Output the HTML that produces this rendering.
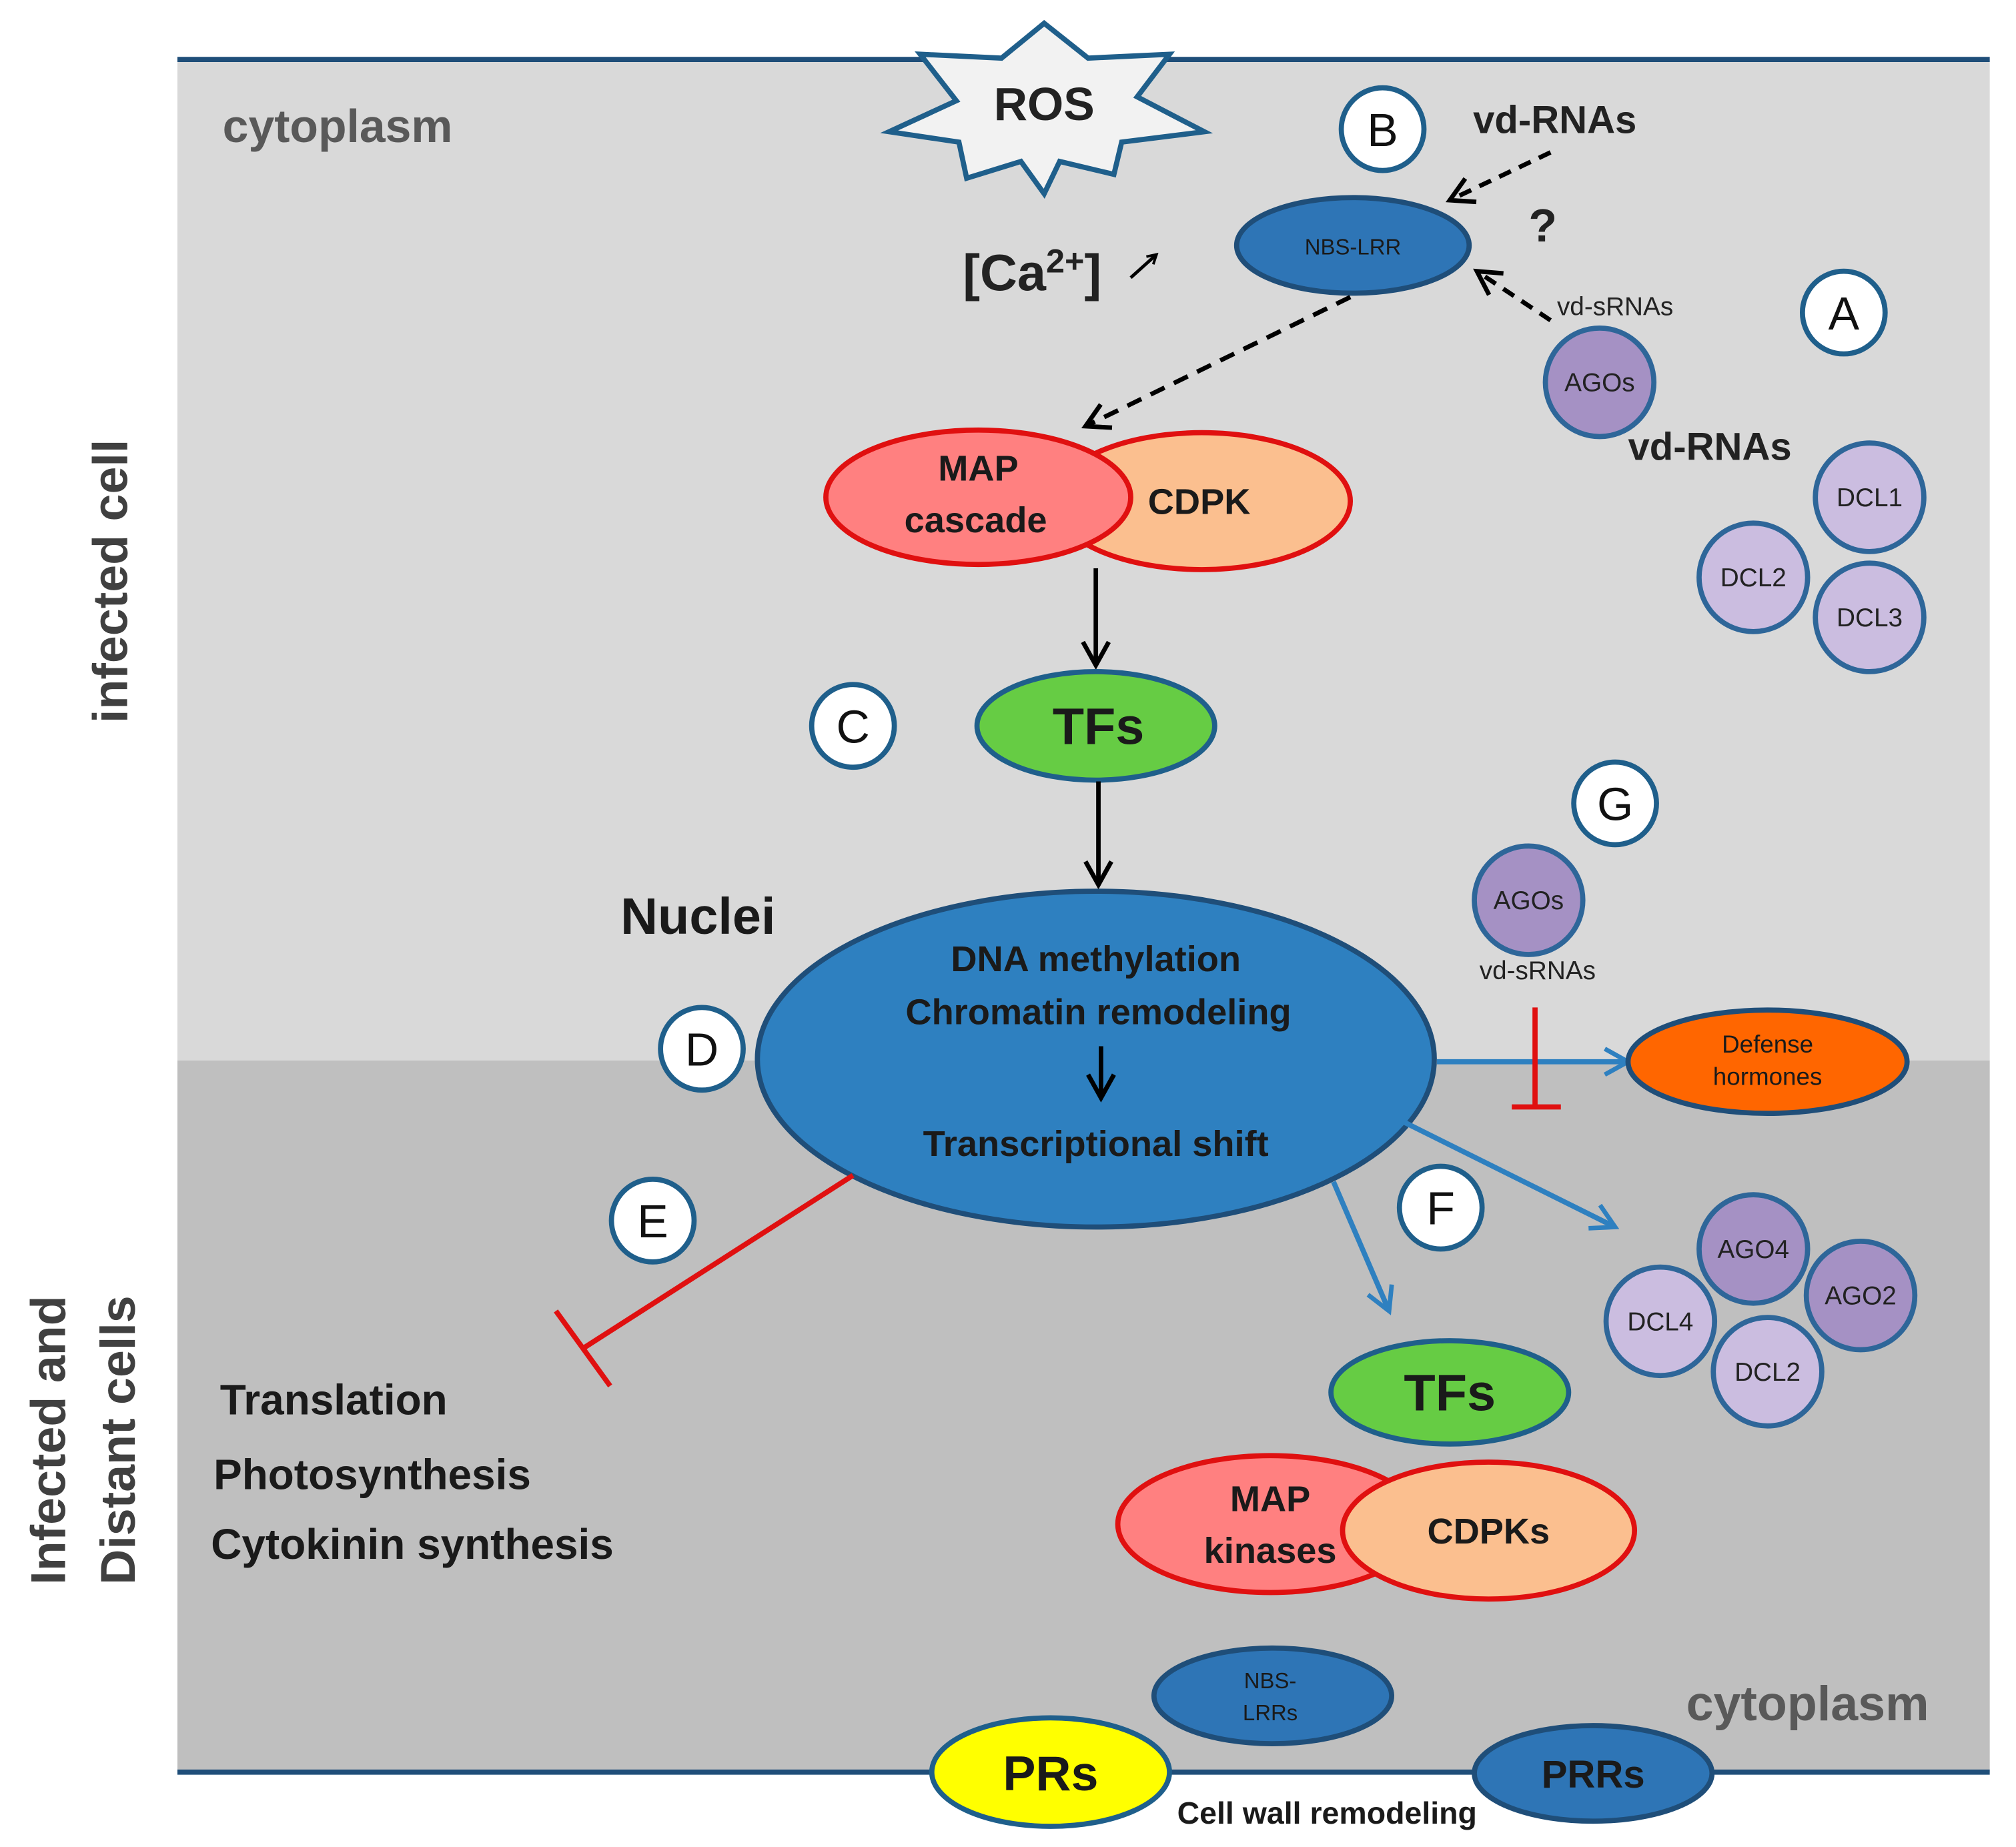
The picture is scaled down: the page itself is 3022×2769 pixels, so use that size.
<!DOCTYPE html>
<html><head><meta charset="utf-8"><style>
html,body{margin:0;padding:0;background:#fff;}
svg{display:block;}
text{font-family:"Liberation Sans",sans-serif;}
</style></head><body>
<svg width="3022" height="2769" viewBox="0 0 1560 1430" xmlns="http://www.w3.org/2000/svg">
<defs>
<marker id="ak" markerWidth="10" markerHeight="10" refX="8" refY="5" orient="auto" markerUnits="userSpaceOnUse" viewBox="0 0 10 10"><path d="M1,1 L8,5 L1,9" fill="none" stroke="#000" stroke-width="2"/></marker>
<marker id="akb" markerWidth="26" markerHeight="26" refX="22" refY="13" orient="auto" markerUnits="userSpaceOnUse" viewBox="0 0 26 26"><path d="M4,3 L22,13 L4,23" fill="none" stroke="#000" stroke-width="3.5"/></marker>
<marker id="ab" markerWidth="26" markerHeight="26" refX="22" refY="13" orient="auto" markerUnits="userSpaceOnUse" viewBox="0 0 26 26"><path d="M4,3 L22,13 L4,23" fill="none" stroke="#2e80c0" stroke-width="3.5"/></marker>
</defs>
<rect x="137" y="46" width="1403" height="775" fill="#d9d9d9"/>
<rect x="137" y="821" width="1403" height="551" fill="#bfbfbf"/>
<line x1="137" y1="46" x2="1540" y2="46" stroke="#1f4e79" stroke-width="4"/>
<line x1="137" y1="1372" x2="1540" y2="1372" stroke="#1f4e79" stroke-width="4"/>

<text x="172" y="110" font-size="36" font-weight="bold" fill="#595959">cytoplasm</text>
<text x="1305" y="1332" font-size="38" font-weight="bold" fill="#595959">cytoplasm</text>
<text transform="translate(98,450) rotate(-90)" text-anchor="middle" font-size="38" font-weight="bold" fill="#404040">infected cell</text>
<text transform="translate(50,1115) rotate(-90)" text-anchor="middle" font-size="38" font-weight="bold" fill="#404040">Infected and</text>
<text transform="translate(104,1115) rotate(-90)" text-anchor="middle" font-size="38" font-weight="bold" fill="#404040">Distant cells</text>

<!-- ROS star -->
<polygon points="808,18 842,45 905,42 880,75 932,102 868,110 862,135 820,125 808,150 790,125 748,138 742,110 688,102 740,78 712,42 775,45" fill="#f2f2f2" stroke="#1f5f8b" stroke-width="4"/>
<text x="808" y="93" text-anchor="middle" font-size="36" font-weight="bold" fill="#222">ROS</text>

<text x="745" y="225" font-size="40" font-weight="bold" fill="#222">[Ca<tspan font-size="26" dy="-14">2+</tspan><tspan dy="14">]</tspan></text>
<line x1="875" y1="215" x2="895" y2="197" stroke="#000" stroke-width="2.5" marker-end="url(#ak)"/>

<!-- circles letters -->
<g fill="#fff" stroke="#1f5f8b" stroke-width="4">
<circle cx="1070" cy="100" r="32"/><circle cx="1427" cy="242" r="32"/><circle cx="660" cy="562" r="32"/>
<circle cx="543" cy="812" r="32"/><circle cx="1250" cy="622" r="32"/><circle cx="1115" cy="935" r="32"/><circle cx="505" cy="945" r="32"/>
</g>
<g font-size="36" text-anchor="middle" fill="#111">
<text x="1070" y="113">B</text><text x="1427" y="255">A</text><text x="660" y="575">C</text>
<text x="543" y="825">D</text><text x="1250" y="635">G</text><text x="1115" y="948">F</text><text x="505" y="958">E</text>
</g>

<text x="1140" y="103" font-size="30" font-weight="bold" fill="#222">vd-RNAs</text>
<line x1="1200" y1="118" x2="1122" y2="155" stroke="#000" stroke-width="3.5" stroke-dasharray="10,7" marker-end="url(#akb)"/>
<text x="1183" y="187" font-size="36" font-weight="bold" fill="#222">?</text>
<line x1="1200" y1="248" x2="1143" y2="210" stroke="#000" stroke-width="3.5" stroke-dasharray="10,7" marker-end="url(#akb)"/>
<text x="1205" y="244" font-size="20" fill="#222">vd-sRNAs</text>

<ellipse cx="1047" cy="190" rx="90" ry="37" fill="#2e75b6" stroke="#1f4e79" stroke-width="4"/>
<text x="1047" y="197" text-anchor="middle" font-size="17" fill="#1a1a1a">NBS-LRR</text>

<line x1="1045" y1="230" x2="840" y2="330" stroke="#000" stroke-width="3.5" stroke-dasharray="12,8" marker-end="url(#akb)"/>

<g stroke="#2e6699" stroke-width="4">
<circle cx="1238" cy="296" r="42" fill="#a591c4"/>
<circle cx="1447" cy="385" r="42" fill="#cbbde0"/><circle cx="1357" cy="447" r="42" fill="#cbbde0"/><circle cx="1447" cy="478" r="42" fill="#cbbde0"/>
<circle cx="1183" cy="697" r="42" fill="#a591c4"/>
<circle cx="1357" cy="967" r="42" fill="#a591c4"/><circle cx="1440" cy="1003" r="42" fill="#a591c4"/>
<circle cx="1285" cy="1023" r="42" fill="#cbbde0"/><circle cx="1368" cy="1062" r="42" fill="#cbbde0"/>
</g>
<g font-size="20" text-anchor="middle" fill="#222">
<text x="1238" y="303">AGOs</text><text x="1447" y="392">DCL1</text><text x="1357" y="454">DCL2</text><text x="1447" y="485">DCL3</text>
<text x="1183" y="704">AGOs</text><text x="1357" y="974">AGO4</text><text x="1440" y="1010">AGO2</text><text x="1285" y="1030">DCL4</text><text x="1368" y="1069">DCL2</text>
<text x="1190" y="758">vd-sRNAs</text>
</g>
<text x="1260" y="356" font-size="30" font-weight="bold" fill="#222">vd-RNAs</text>

<!-- MAP/CDPK -->
<ellipse cx="930" cy="388" rx="115" ry="53" fill="#fbbf8f" stroke="#e01010" stroke-width="4"/>
<ellipse cx="757" cy="385" rx="118" ry="52" fill="#ff8080" stroke="#e01010" stroke-width="4"/>
<g font-size="28" font-weight="bold" text-anchor="middle" fill="#1a1a1a">
<text x="757" y="372">MAP</text><text x="755" y="412">cascade</text><text x="928" y="398">CDPK</text>
</g>
<line x1="848" y1="440" x2="848" y2="515" stroke="#000" stroke-width="3.5" marker-end="url(#akb)"/>
<ellipse cx="848" cy="562" rx="92" ry="42" fill="#66cc44" stroke="#1f5f8b" stroke-width="4"/>
<text x="850" y="576" text-anchor="middle" font-size="40" font-weight="bold" fill="#1a1a1a">TFs</text>
<line x1="850" y1="605" x2="850" y2="685" stroke="#000" stroke-width="3.5" marker-end="url(#akb)"/>

<text x="480" y="723" font-size="40" font-weight="bold" fill="#1a1a1a">Nuclei</text>
<ellipse cx="848" cy="820" rx="262" ry="130" fill="#2e80c0" stroke="#1f4e79" stroke-width="4"/>
<g font-size="28" font-weight="bold" text-anchor="middle" fill="#1a1a1a">
<text x="848" y="752">DNA methylation</text><text x="850" y="793">Chromatin remodeling</text><text x="848" y="895">Transcriptional  shift</text>
</g>
<line x1="852" y1="810" x2="852" y2="850" stroke="#000" stroke-width="3.5" marker-end="url(#akb)"/>

<line x1="1112" y1="822" x2="1260" y2="822" stroke="#2e80c0" stroke-width="4" marker-end="url(#ab)"/>
<line x1="1188" y1="780" x2="1188" y2="857" stroke="#e01010" stroke-width="4"/>
<line x1="1170" y1="857" x2="1208" y2="857" stroke="#e01010" stroke-width="4"/>
<ellipse cx="1368" cy="822" rx="108" ry="40" fill="#ff6600" stroke="#1f4e79" stroke-width="4"/>
<text x="1368" y="815" text-anchor="middle" font-size="19" fill="#1a1a1a">Defense</text>
<text x="1368" y="840" text-anchor="middle" font-size="19" fill="#1a1a1a">hormones</text>

<line x1="1085" y1="868" x2="1250" y2="950" stroke="#2e80c0" stroke-width="4" marker-end="url(#ab)"/>
<line x1="1032" y1="915" x2="1075" y2="1015" stroke="#2e80c0" stroke-width="4" marker-end="url(#ab)"/>

<line x1="660" y1="910" x2="451" y2="1044" stroke="#e01010" stroke-width="4"/>
<line x1="430" y1="1015" x2="472" y2="1073" stroke="#e01010" stroke-width="4"/>

<g font-size="33" font-weight="bold" fill="#1a1a1a">
<text x="170" y="1095">Translation</text><text x="165" y="1153">Photosynthesis</text><text x="163" y="1207">Cytokinin synthesis</text>
</g>

<ellipse cx="1122" cy="1078" rx="92" ry="40" fill="#66cc44" stroke="#1f5f8b" stroke-width="4"/>
<text x="1122" y="1092" text-anchor="middle" font-size="40" font-weight="bold" fill="#1a1a1a">TFs</text>
<ellipse cx="983" cy="1180" rx="118" ry="53" fill="#ff8080" stroke="#e01010" stroke-width="4"/>
<ellipse cx="1152" cy="1185" rx="113" ry="53" fill="#fbbf8f" stroke="#e01010" stroke-width="4"/>
<g font-size="28" font-weight="bold" text-anchor="middle" fill="#1a1a1a">
<text x="983" y="1170">MAP</text><text x="983" y="1210">kinases</text><text x="1152" y="1195">CDPKs</text>
</g>

<ellipse cx="985" cy="1313" rx="92" ry="37" fill="#2e75b6" stroke="#1f4e79" stroke-width="4"/>
<text x="983" y="1307" text-anchor="middle" font-size="17" fill="#1a1a1a">NBS-</text>
<text x="983" y="1332" text-anchor="middle" font-size="17" fill="#1a1a1a">LRRs</text>
<ellipse cx="813" cy="1372" rx="92" ry="42" fill="#ffff00" stroke="#1f5f8b" stroke-width="4"/>
<text x="813" y="1386" text-anchor="middle" font-size="38" font-weight="bold" fill="#1a1a1a">PRs</text>
<ellipse cx="1233" cy="1373" rx="92" ry="37" fill="#2e75b6" stroke="#1f4e79" stroke-width="4"/>
<text x="1233" y="1384" text-anchor="middle" font-size="30" font-weight="bold" fill="#1a1a1a">PRRs</text>
<text x="1027" y="1412" text-anchor="middle" font-size="24" font-weight="bold" fill="#1a1a1a">Cell wall remodeling</text>
</svg>
</body></html>
